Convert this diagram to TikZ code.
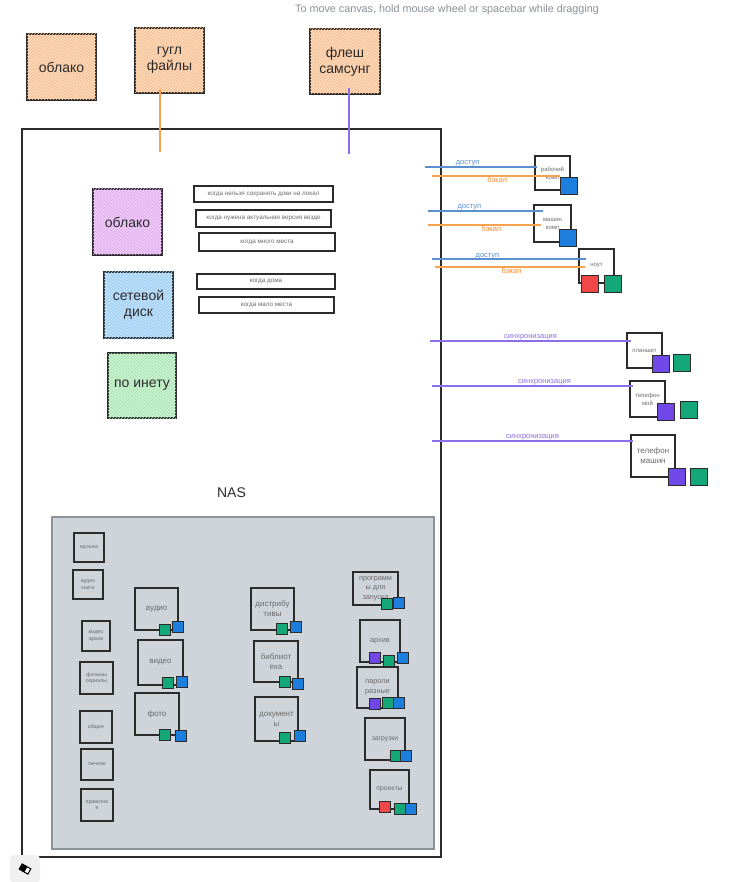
\documentclass[tikz,border=0pt]{standalone}
\usepackage{fontspec}
\setmainfont{Liberation Sans}
\usetikzlibrary{patterns}
\definecolor{ink}{HTML}{2B2B2B}
\definecolor{txtgray}{HTML}{6B6B6B}
\definecolor{uigray}{HTML}{8A9099}
\definecolor{orfill}{HTML}{FDDABD}
\definecolor{orhatch}{HTML}{F9B887}
\definecolor{pufill}{HTML}{F0CDF9}
\definecolor{puhatch}{HTML}{DCA4EE}
\definecolor{blfill}{HTML}{C2E2FB}
\definecolor{blhatch}{HTML}{94C9F2}
\definecolor{grfill}{HTML}{CDF2D3}
\definecolor{grhatch}{HTML}{9FE0AC}
\definecolor{panel}{HTML}{CFD4DB}
\definecolor{panelline}{HTML}{8C9299}
\definecolor{sqblue}{HTML}{1C7EDD}
\definecolor{sqgreen}{HTML}{14A878}
\definecolor{sqred}{HTML}{F04848}
\definecolor{sqpurple}{HTML}{7048E8}
\definecolor{lnblue}{HTML}{5A8FD0}
\definecolor{lnorange}{HTML}{F7A24E}
\definecolor{laborange}{HTML}{F08C2E}
\definecolor{lnpurple}{HTML}{8C6EEA}
\tikzset{
  bigbox/.style={draw=ink, line width=1.4pt, inner sep=0pt, align=center,
    text=ink, font=\fontsize{14}{16}\selectfont},
  hatch/.style={postaction={pattern=north east lines, pattern color=#1}},
  note/.style={draw=ink, line width=1.2pt, inner sep=0pt, fill=white,
    text=txtgray, font=\fontsize{6.3}{7}\selectfont},
  tiny/.style={draw=ink, line width=1.1pt, inner sep=0pt, align=center,
    text=txtgray, font=\fontsize{5.3}{6.5}\selectfont},
  folder/.style={draw=ink, line width=1.2pt, inner sep=0pt, align=center,
    text=txtgray, font=\fontsize{8}{10}\selectfont},
  device/.style={draw=ink, line width=1.2pt, inner sep=0pt, align=center, fill=white,
    text=txtgray, font=\fontsize{6}{8}\selectfont},
  sq/.style={draw=ink, line width=1pt, minimum size=11pt, inner sep=0pt, fill=#1},
  bsq/.style={draw=ink, line width=1pt, minimum size=17pt, inner sep=0pt, fill=#1},
  link/.style={line width=1.4pt, draw=#1},
  lab/.style={font=\fontsize{7.5}{9}\selectfont, text=#1, inner sep=0pt}
}
\begin{document}
\begin{tikzpicture}[x=1pt,y=-1pt]
\useasboundingbox (0,0) rectangle (751,882);
\fill[white] (0,0) rectangle (751,882);

% UI hint
\node[text=uigray, font=\fontsize{10.8}{12}\selectfont] (hint) at (447,10) {To move canvas, hold mouse wheel or spacebar while dragging};

% top storage
\node[bigbox, fill=orfill, hatch=orhatch, minimum width=69pt, minimum height=66pt] (oblakoTop) at (61.5,67) {облако};
\node[bigbox, fill=orfill, hatch=orhatch, minimum width=69pt, minimum height=65pt] (gugl) at (169.5,60.5) {гугл\\файлы};
\node[bigbox, fill=orfill, hatch=orhatch, minimum width=70pt, minimum height=65pt] (flesh) at (345,61.5) {флеш\\самсунг};

% NAS frame
\node[draw=ink, line width=1.3pt, minimum width=419pt, minimum height=728pt, inner sep=0pt,
  font=\fontsize{14}{16}\selectfont, text=ink] (nas) at (231.5,493) {NAS};

\coordinate (gEnd) at (160,152);
\coordinate (fEnd) at (349,154);
\draw[link=lnorange] (gEnd |- gugl.south) ++(0,-5) -- (gEnd);
\draw[link=lnpurple] (fEnd |- flesh.south) ++(0,-7) -- (fEnd);

% access types
\node[bigbox, fill=pufill, hatch=puhatch, minimum width=69pt, minimum height=66pt] (oblako) at (127.5,222) {облако};
\node[bigbox, fill=blfill, hatch=blhatch, minimum width=69pt, minimum height=66pt] (disk) at (138.5,305) {сетевой\\диск};
\node[bigbox, fill=grfill, hatch=grhatch, minimum width=68pt, minimum height=65pt] (inet) at (142,385.5) {по инету};

\node[note, minimum width=139pt, minimum height=16pt] (n1) at (263.5,194) {когда нельзя сохранять доки на локал};
\node[note, minimum width=135pt, minimum height=17pt] (n2) at (263.5,218.5) {когда нужена актуальная версия везде};
\node[note, minimum width=136pt, minimum height=18pt] (n3) at (267,242) {когда много места};
\node[note, minimum width=138pt, minimum height=15pt] (n4) at (266,281.5) {когда дома};
\node[note, minimum width=135pt, minimum height=16pt] (n5) at (266.5,305) {когда мало места};

% inner panel
\node[draw=panelline, line width=1.2pt, fill=panel, minimum width=382pt, minimum height=332pt, inner sep=0pt] (panel) at (243,683) {};

% left column
\node[tiny, minimum width=30pt, minimum height=29pt] (muz) at (89,547.5) {музыка};
\node[tiny, minimum width=30pt, minimum height=29pt] (akn) at (88,584.5) {аудио\\книги};
\node[tiny, minimum width=28pt, minimum height=30pt] (var) at (96,636) {видео\\архив};
\node[tiny, minimum width=33pt, minimum height=32pt] (fil) at (96.5,678) {фильмы\\сериалы};
\node[tiny, minimum width=32pt, minimum height=32pt] (obs) at (96,727) {общее};
\node[tiny, minimum width=32pt, minimum height=31pt] (lic) at (97,764.5) {личное};
\node[tiny, minimum width=32pt, minimum height=32pt] (pri) at (97,805) {приватно\\е};

% middle column 1
\node[folder, minimum width=43pt, minimum height=42pt] (aud) at (156.5,609) {аудио};
\node[folder, minimum width=45pt, minimum height=45pt] (vid) at (160.5,662.5) {видео};
\node[folder, minimum width=44pt, minimum height=42pt] (fot) at (157,714) {фото};
\node[sq=sqgreen] (audG) at (164.5,630) {};
\node[sq=sqblue] (audB) at (177.5,626.5) {};
\node[sq=sqgreen] (vidG) at (168,683) {};
\node[sq=sqblue] (vidB) at (182,682) {};
\node[sq=sqgreen] (fotG) at (164.5,734.5) {};
\node[sq=sqblue] (fotB) at (180.5,735.5) {};

% middle column 2
\node[folder, minimum width=43pt, minimum height=42pt] (dis) at (272.5,609) {дистрибу\\тивы};
\node[folder, minimum width=44pt, minimum height=41pt] (bib) at (276,661.5) {библиот\\ека};
\node[folder, minimum width=43pt, minimum height=44pt] (doc) at (276.5,719) {документ\\ы};
\node[sq=sqgreen] (disG) at (281.5,629) {};
\node[sq=sqblue] (disB) at (295.5,627) {};
\node[sq=sqgreen] (bibG) at (284.5,682) {};
\node[sq=sqblue] (bibB) at (297.5,684) {};
\node[sq=sqgreen] (docG) at (284.5,738) {};
\node[sq=sqblue] (docB) at (300,736) {};

% right column
\node[folder, minimum width=45pt, minimum height=33pt, font=\fontsize{7.3}{9.5}\selectfont] (prg) at (375.5,588.5) {программ\\ы для\\запуска};
\node[folder, minimum width=40pt, minimum height=42pt, font=\fontsize{7.3}{9.5}\selectfont] (arh) at (380,641) {архив};
\node[folder, minimum width=41pt, minimum height=41pt, font=\fontsize{7.3}{9.5}\selectfont] (par) at (377.5,687.5) {пароли\\разные};
\node[folder, minimum width=40pt, minimum height=42pt, font=\fontsize{6.8}{9}\selectfont] (zag) at (385,739) {загрузки};
\node[folder, minimum width=39pt, minimum height=39pt, font=\fontsize{6.8}{9}\selectfont] (prj) at (389.5,789.5) {проекты};
\node[sq=sqgreen] (prgG) at (386.5,603.5) {};
\node[sq=sqblue] (prgB) at (398.5,602.5) {};
\node[sq=sqpurple] (arhP) at (374.5,657.5) {};
\node[sq=sqgreen] (arhG) at (388.5,660.5) {};
\node[sq=sqblue] (arhB) at (402.5,657.5) {};
\node[sq=sqpurple] (parP) at (374.5,703.5) {};
\node[sq=sqgreen] (parG) at (388,703) {};
\node[sq=sqblue] (parB) at (398.5,702.5) {};
\node[sq=sqgreen] (zagG) at (395.5,755.5) {};
\node[sq=sqblue] (zagB) at (405.5,755.5) {};
\node[sq=sqred] (prjR) at (384.5,806.5) {};
\node[sq=sqgreen] (prjG) at (399.5,808.5) {};
\node[sq=sqblue] (prjB) at (411,808.5) {};

% devices
\node[device, minimum width=35pt, minimum height=34pt] (rab) at (552.5,173) {рабочий\\комп};
\node[device, minimum width=37pt, minimum height=37pt] (mkomp) at (552.5,223.5) {машин\\комп};
\node[device, minimum width=35pt, minimum height=34pt] (nout) at (596.5,266) {ноут};
\node[device, minimum width=35pt, minimum height=35pt] (plan) at (644.5,350.5) {планшет};
\node[device, minimum width=35pt, minimum height=36pt] (tmoy) at (647.5,399) {телефон\\мой};
\node[device, minimum width=44pt, minimum height=42pt, font=\fontsize{8}{10}\selectfont] (tmash) at (653,456) {телефон\\машин};

% links (drawn over device boxes)
\coordinate (a1s) at (425,167); \coordinate (a1e) at (537,167);
\coordinate (b1s) at (432,176); \coordinate (b1e) at (560,176);
\coordinate (a2s) at (428,211); \coordinate (a2e) at (543,211);
\coordinate (b2s) at (428,225); \coordinate (b2e) at (541,225);
\coordinate (a3s) at (432,259); \coordinate (a3e) at (586,259);
\coordinate (b3s) at (435,267); \coordinate (b3e) at (585,267);
\coordinate (s1s) at (430,341); \coordinate (s1e) at (631,341);
\coordinate (s2s) at (432,386); \coordinate (s2e) at (633,386);
\coordinate (s3s) at (432,441); \coordinate (s3e) at (633,441);

\draw[link=lnblue] (a1s) -- node[lab=lnblue, pos=0.38, yshift=4pt] {доступ} (a1e);
\draw[link=lnorange] (b1s) -- node[lab=laborange, pos=0.51, yshift=-3.5pt] {бэкап} (b1e);
\draw[link=lnblue] (a2s) -- node[lab=lnblue, pos=0.36, yshift=4pt] {доступ} (a2e);
\draw[link=lnorange] (b2s) -- node[lab=laborange, pos=0.56, yshift=-3.5pt] {бэкап} (b2e);
\draw[link=lnblue] (a3s) -- node[lab=lnblue, pos=0.36, yshift=3pt] {доступ} (a3e);
\draw[link=lnorange] (b3s) -- node[lab=laborange, pos=0.51, yshift=-3.5pt] {бэкап} (b3e);
\draw[link=lnpurple] (s1s) -- node[lab=lnpurple, pos=0.5, yshift=4pt] {синхронизация} (s1e);
\draw[link=lnpurple] (s2s) -- node[lab=lnpurple, pos=0.56, yshift=4pt] {синхронизация} (s2e);
\draw[link=lnpurple] (s3s) -- node[lab=lnpurple, pos=0.5, yshift=4pt] {синхронизация} (s3e);

% device squares
\node[bsq=sqblue] (rabB) at (568.5,186.5) {};
\node[bsq=sqblue] (mkompB) at (567.5,238.5) {};
\node[bsq=sqred] (noutR) at (590,284) {};
\node[bsq=sqgreen] (noutG) at (612.5,284) {};
\node[bsq=sqpurple] (planP) at (660.5,363.5) {};
\node[bsq=sqgreen] (planG) at (681.5,363) {};
\node[bsq=sqpurple] (tmoyP) at (666,412) {};
\node[bsq=sqgreen] (tmoyG) at (688.5,410) {};
\node[bsq=sqpurple] (tmashP) at (677,477) {};
\node[bsq=sqgreen] (tmashG) at (698.5,477) {};

% eraser button
\node[fill=black!6, rounded corners=4pt, minimum width=30pt, minimum height=28pt, inner sep=0pt] (eraser) at (25,869) {};
\begin{scope}[shift={(eraser.center)}, rotate=-30]
  \draw[line width=1pt, fill=white] (-5,-3) rectangle (5,3);
  \fill[black] (-5,-3) rectangle (1,3);
\end{scope}
\end{tikzpicture}
\end{document}
